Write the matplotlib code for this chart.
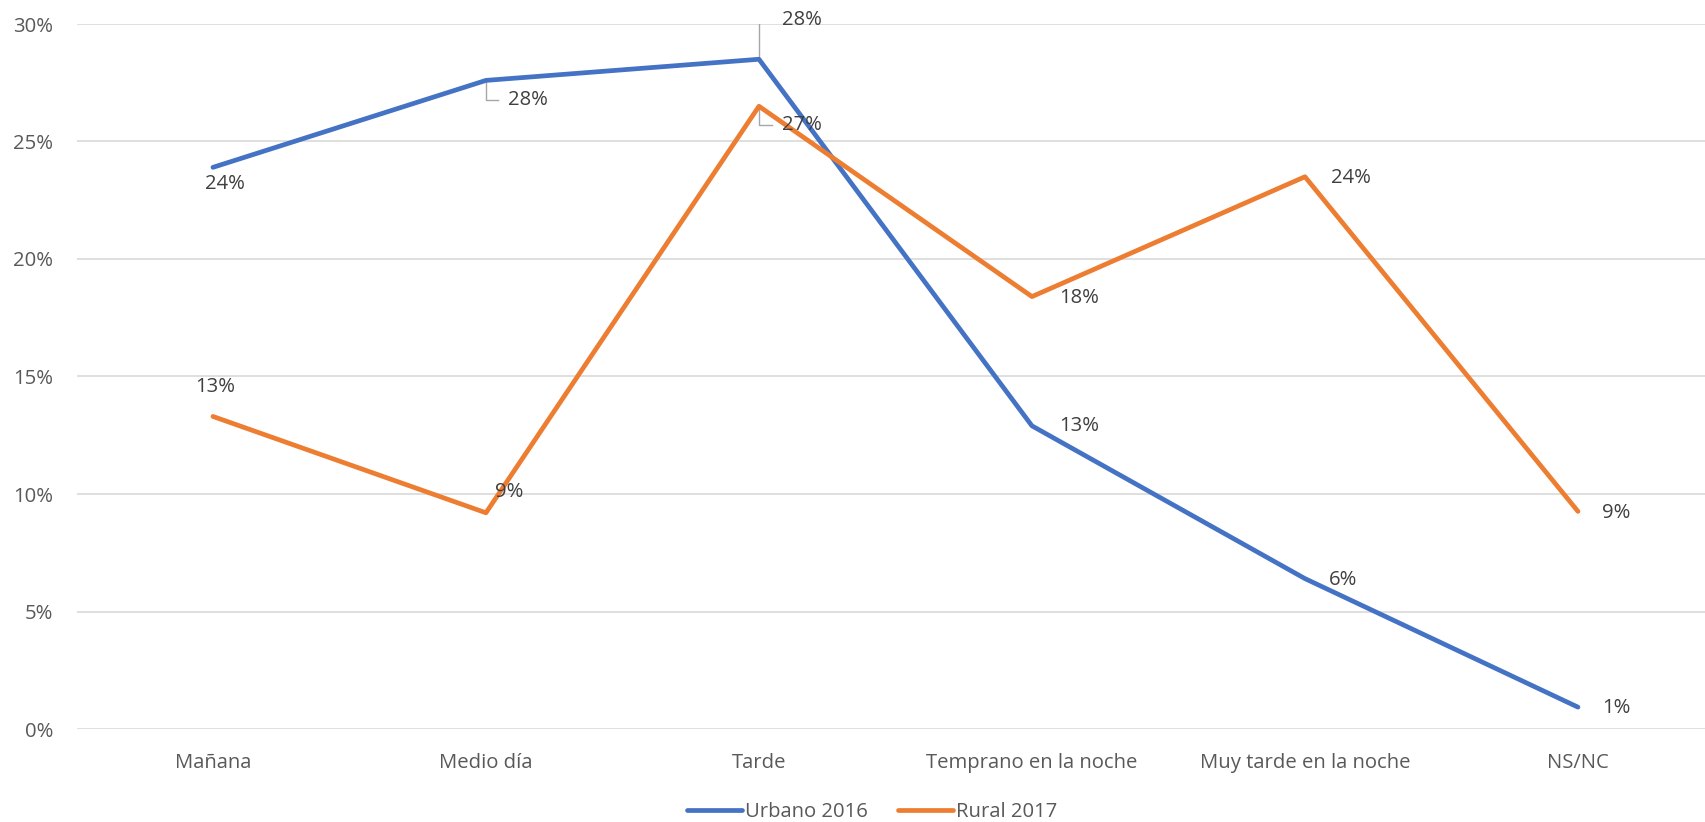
import matplotlib
matplotlib.use("Agg")
import matplotlib.pyplot as plt
from matplotlib.ticker import FuncFormatter

plt.rcParams['font.family'] = ['Open Sans', 'DejaVu Sans']

categories = ["Mañana", "Medio día", "Tarde", "Temprano en la noche", "Muy tarde en la noche", "NS/NC"]
urbano_2016 = [23.9, 27.6, 28.5, 12.9, 6.4, 0.93]
rural_2017 = [13.3, 9.2, 26.5, 18.4, 23.5, 9.26]
urbano_labels = ["24%", "28%", "28%", "13%", "6%", "1%"]
rural_labels = ["13%", "9%", "27%", "18%", "24%", "9%"]
y_ticks = [0, 5, 10, 15, 20, 25, 30]

BLUE = "#4472C4"
ORANGE = "#ED7D31"
GRID = "#D9D9D9"
TICK = "#595959"
LABEL = "#404040"
LEADER = "#A6A6A6"
FS = 14.6

W, H = 1706, 822
fig = plt.figure(figsize=(W / 100, H / 100), dpi=100)
left, right, top, bottom = 77, 1706, 24, 729
ax = fig.add_axes([left / W, 1 - bottom / H, (right - left) / W, (bottom - top) / H])

x = list(range(len(categories)))
ax.plot(x, urbano_2016, color=BLUE, lw=3.4, solid_capstyle='round', solid_joinstyle='round', zorder=3, label="Urbano 2016")
ax.plot(x, rural_2017, color=ORANGE, lw=3.4, solid_capstyle='round', solid_joinstyle='round', zorder=3, label="Rural 2017")

ax.set_xlim(-0.498, 5.469)
ax.set_ylim(0, 30)
ax.set_yticks(y_ticks)
ax.yaxis.set_major_formatter(FuncFormatter(lambda v, p: f"{int(v)}%"))
ax.set_xticks(x)
ax.set_xticklabels(categories)
ax.grid(axis='y', color=GRID, lw=1.2)
ax.set_axisbelow(True)
for s in ax.spines.values():
    s.set_visible(False)
ax.tick_params(axis='both', length=0, labelsize=FS, labelcolor=TICK)
ax.tick_params(axis='y', pad=17)
ax.tick_params(axis='x', pad=17)

def lab(xi, yi, text, dx, dy, ha='left', va='center'):
    ax.annotate(text, (xi, yi), xytext=(dx, -dy), textcoords='offset pixels',
                ha=ha, va=va, fontsize=FS, color=LABEL, zorder=4)

def leader(xi, yi, dy, dx_end, text):
    # elbow leader line: vertical then horizontal, in pixel offsets
    trans = ax.transData
    px, py = trans.transform((xi, yi))
    inv = trans.inverted()
    p1 = inv.transform((px, py - dy))
    p2 = inv.transform((px + dx_end, py - dy))
    ax.plot([xi, p1[0], p2[0]], [yi, p1[1], p2[1]], color=LEADER, lw=1.0, zorder=2)
    ax.annotate(text, (xi, yi), xytext=(dx_end + 10, -dy), textcoords='offset pixels',
                ha='left', va='center', fontsize=FS, color=LABEL, zorder=4)

# Urbano 2016 labels
lab(0, urbano_2016[0], urbano_labels[0], 12, 17, ha='center')
leader(1, urbano_2016[1], 20, 12, urbano_labels[1])
leader(2, urbano_2016[2], -39, 13, urbano_labels[2])
lab(3, urbano_2016[3], urbano_labels[3], 27, 0)
lab(4, urbano_2016[4], urbano_labels[4], 24, 1)
lab(5, urbano_2016[5], urbano_labels[5], 24, 1)

# Rural 2017 labels
lab(0, rural_2017[0], rural_labels[0], 2, -29, ha='center')
lab(1, rural_2017[1], rural_labels[1], 9, -21)
leader(2, rural_2017[2], 19, 13, rural_labels[2])
lab(3, rural_2017[3], rural_labels[3], 27, 1)
lab(4, rural_2017[4], rural_labels[4], 26, 1)
lab(5, rural_2017[5], rural_labels[5], 24, 2)

leg = fig.legend(loc='center', bbox_to_anchor=(872 / W, 1 - 812 / H), ncol=2, frameon=False,
                 fontsize=FS, handlelength=2.7, handletextpad=0.15, columnspacing=1.5,
                 labelcolor=TICK)

fig.savefig("out.png", dpi=100)
